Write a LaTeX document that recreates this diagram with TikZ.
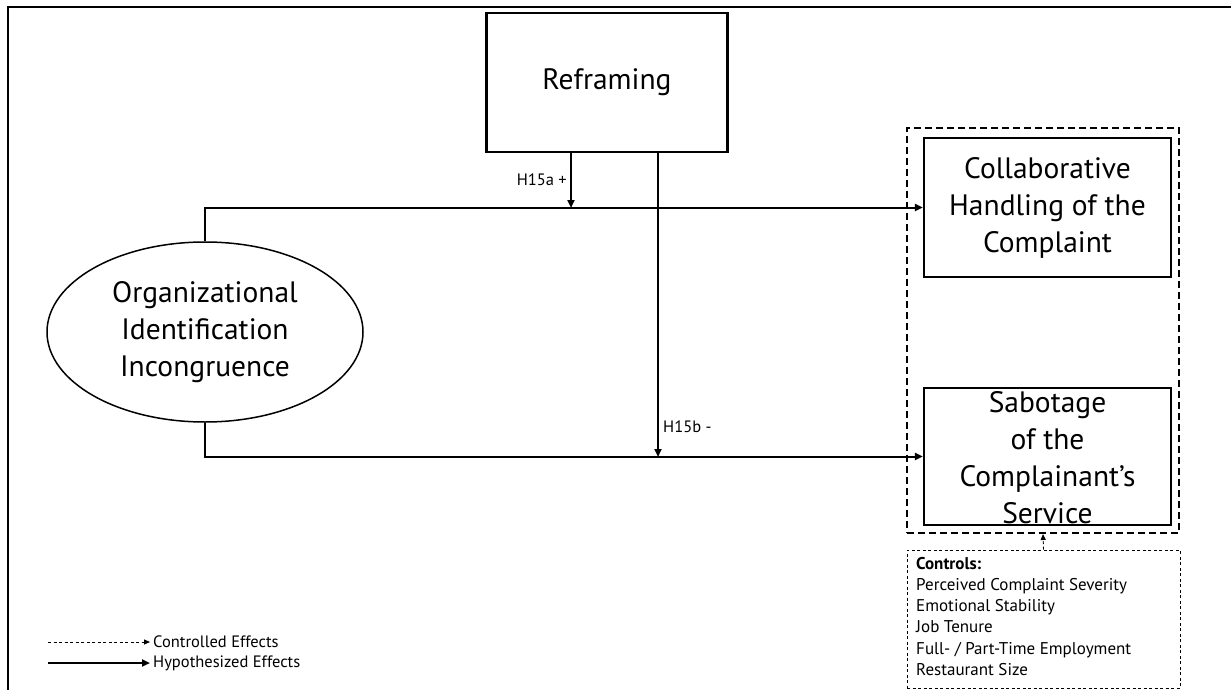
\documentclass[tikz,border=0pt]{standalone}
\usepackage{fontspec}
\setmainfont{PT Sans}
\usetikzlibrary{shapes.geometric,arrows.meta}
\begin{document}
\begin{tikzpicture}[x=1pt,y=-1pt,
  construct/.style={draw,line width=2.2pt,inner sep=0pt,align=center,
    font=\fontsize{29.5}{37}\selectfont},
  hyp/.style={line width=2pt,-{Triangle[length=8pt,width=7pt]}},
  ctl/.style={line width=0.9pt,dash pattern=on 3pt off 2.5pt,-{Triangle[length=6pt,width=5pt]}},
  small/.style={font=\fontsize{16.5}{20}\selectfont,inner sep=0pt}]
\useasboundingbox (0,0) rectangle (1231,690);
% outer frame
\draw[line width=2pt] (8,690) -- (8,7) -- (1231,7);

% constructs
\node[construct,minimum width=241pt,minimum height=139pt] (reframe) at (607,82.5) {Reframing};
\node[construct,ellipse,line width=1.5pt,minimum width=316pt,minimum height=180pt] (oii) at (205,332)
  {Organizational\\Identification\\Incongruence};
\node[construct,minimum width=247pt,minimum height=139pt] (collab) at (1047.5,207.5)
  {Collaborative\\Handling of the\\Complaint};
\node[construct,minimum width=247pt,minimum height=137pt] (sabot) at (1047.5,456.5) {};
\node[align=center,inner sep=0pt,font=\fontsize{29.5}{37}\selectfont] (sabottext) at (1047.5,458)
  {Sabotage\\of the\\Complainant’s\\Service};

% dependent variables group
\node[draw,line width=2pt,dash pattern=on 7pt off 4pt,minimum width=272pt,minimum height=405pt,inner sep=0pt]
  (dv) at (1043,330.5) {};

% controls
\node[draw,line width=0.9pt,dash pattern=on 3pt off 2.5pt,minimum width=273pt,minimum height=138pt,inner sep=0pt]
  (controls) at (1043.5,619) {};
\node[anchor=north west,align=left,inner sep=0pt,font=\fontsize{17}{21.2}\selectfont] (ctext) at (916,557)
  {\textbf{Controls:}\\Perceived Complaint Severity\\Emotional Stability\\Job Tenure\\Full- / Part-Time Employment\\Restaurant Size};
\draw[ctl] (controls.north) -- (dv.south);

% hypothesized paths
\draw[hyp] (oii.north) |- (collab.west);
\draw[hyp] (oii.south) |- (sabot.west);
\coordinate (m1) at (571,208);
\coordinate (m2) at (658,457);
\draw[hyp] (reframe.south -| m1) -- (m1);
\draw[hyp] (reframe.south -| m2) -- (m2);
\node[small,anchor=east] (h15a) at (567,180) {H15a +};
\node[small,anchor=west] (h15b) at (663,427) {H15b -};

% legend
\coordinate (l1a) at (48,642);
\coordinate (l1b) at (150,642);
\coordinate (l2a) at (48,663);
\coordinate (l2b) at (150,663);
\draw[ctl] (l1a) -- (l1b);
\draw[hyp] (l2a) -- (l2b);
\node[small,anchor=west] (leg1) at (153,642) {Controlled Effects};
\node[small,anchor=west] (leg2) at (153,663) {Hypothesized Effects};
\end{tikzpicture}
\end{document}
